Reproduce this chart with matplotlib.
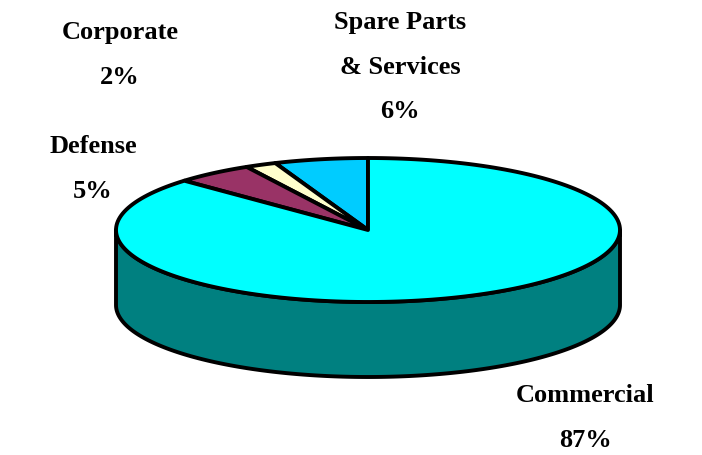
import numpy as np
import matplotlib.pyplot as plt
from matplotlib.patches import Polygon

# slice data, counter-clockwise from 12 o'clock
segments = ['Spare Parts\n& Services', 'Corporate', 'Defense', 'Commercial']
shares = [6, 2, 5, 87]
top_colors = ['#00CCFF', '#FFFFCC', '#993366', '#00FFFF']
side_color = '#008080'

# label centres (pixels)
label_pos = [(400, 67), (120, 55), (93, 169), (585, 418)]

# pie geometry in pixel units
cx, cy = 368, 230
rx, ry = 252, 72
depth = 75


def rim(a0, a1, dy=0, n=200):
    t = np.radians(np.linspace(a0, a1, n))
    return np.column_stack([cx + rx * np.cos(t), cy - ry * np.sin(t) + dy])


fig = plt.figure(figsize=(7.02, 4.55), dpi=100)
ax = fig.add_axes([0, 0, 1, 1])
ax.set_xlim(0, 702)
ax.set_ylim(455, 0)
ax.axis('off')

# front wall (only the lower half of the rim is visible)
top = rim(180, 360)
bot = rim(360, 180, depth)
ax.add_patch(Polygon(np.vstack([top, bot]), closed=True, facecolor=side_color,
                     edgecolor='black', linewidth=2.8, joinstyle='round'))

# top face wedges
start = 90
for name, v, c in zip(segments, shares, top_colors):
    end = start + v / sum(shares) * 360
    pts = np.vstack([[cx, cy], rim(start, end), [cx, cy]])
    ax.add_patch(Polygon(pts, closed=True, facecolor=c, edgecolor='black',
                         linewidth=2.8, joinstyle='round'))
    start = end

for name, v, (x, y) in zip(segments, shares, label_pos):
    ax.text(x, y, '%s\n%d%%' % (name, v), ha='center', va='center',
            family='Liberation Serif', weight='bold', fontsize=19,
            linespacing=2.2)

fig.savefig('out.png', dpi=100)
